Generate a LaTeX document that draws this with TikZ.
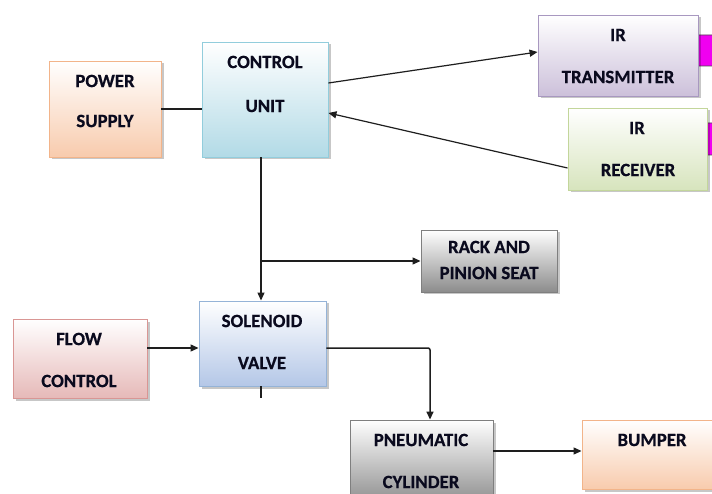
\documentclass[tikz,border=0pt]{standalone}
\usepackage{fontspec}
\setmainfont{Carlito}[BoldFeatures={FakeBold=0.6}]
\usetikzlibrary{arrows.meta,shadows,calc}
\definecolor{txt}{HTML}{0A0A1E}
\definecolor{ln}{HTML}{1E1E1E}
\definecolor{mag}{HTML}{F000F0}
\definecolor{psb}{HTML}{F8CBAD}\definecolor{psd}{HTML}{F2B48A}
\definecolor{cub}{HTML}{B2DAE6}\definecolor{cud}{HTML}{92CDDC}
\definecolor{itb}{HTML}{CCC0DA}\definecolor{itd}{HTML}{A898C0}
\definecolor{irb}{HTML}{D7E4BD}\definecolor{ird}{HTML}{C3D69B}
\definecolor{grb}{HTML}{8C8C8C}\definecolor{grd}{HTML}{7F7F7F}
\definecolor{svb}{HTML}{B4C7E7}\definecolor{svd}{HTML}{95B3D7}
\definecolor{fcb}{HTML}{E6B9B8}\definecolor{fcd}{HTML}{D99694}
\tikzset{
  blk/.style n args={2}{draw=#2, line width=0.9pt, top color=white, bottom color=#1,
     drop shadow={shadow xshift=2.5pt, shadow yshift=-2.5pt, fill=black, opacity=0.22},
     inner sep=0pt},
  lbl/.style={font=\fontsize{18.8}{21}\selectfont\bfseries, text=txt, inner sep=0pt},
  conn/.style={draw=ln, line width=1.2pt},
  arr/.style={conn, -{Triangle[length=8pt,width=7pt]}},
  tab/.style={draw=black!70, line width=0.7pt, fill=mag, rounded corners=4pt}
}
\begin{document}
\begin{tikzpicture}[x=1pt,y=-1pt]
\useasboundingbox (0,0) rectangle (712,494);
\clip (0,0) rectangle (712,494);
\fill[white] (0,0) rectangle (712,494);
% tabs
\draw[tab] (694,35) rectangle (722,66);
\draw[tab] (702,123) rectangle (722,155);
% boxes
\node[blk={psb}{psd}, minimum width=112pt, minimum height=96pt] (ps) at (105,109) {};
\node[blk={cub}{cud}, minimum width=126pt, minimum height=115pt] (cu) at (265,99.5) {};
\node[blk={itb}{itd}, minimum width=160pt, minimum height=81pt] (it) at (618,55.5) {};
\node[blk={irb}{ird}, minimum width=139pt, minimum height=82pt] (ir) at (637.5,149) {};
\node[blk={grb}{grd}, minimum width=136pt, minimum height=62pt] (rk) at (489,261) {};
\node[blk={svb}{svd}, minimum width=127pt, minimum height=85pt] (sv) at (262.5,343.5) {};
\node[blk={fcb}{fcd}, minimum width=134pt, minimum height=79pt] (fc) at (80,358.5) {};
\node[blk={grb}{grd}, minimum width=143pt, minimum height=85pt] (pc) at (421.5,462.5) {};
\node[blk={psb}{psd}, minimum width=140pt, minimum height=69pt] (bu) at (652,454.5) {};
% labels
\node[lbl] (ps1) at (105,81) {POWER};
\node[lbl] (ps2) at (105,121) {SUPPLY};
\node[lbl] (cu1) at (265,62) {CONTROL};
\node[lbl] (cu2) at (265,106) {UNIT};
\node[lbl] (it1) at (618,35) {IR};
\node[lbl] (it2) at (618,77) {TRANSMITTER};
\node[lbl] (ir1) at (637,128) {IR};
\node[lbl] (ir2) at (638,170) {RECEIVER};
\node[lbl] (rk1) at (489,247) {RACK AND};
\node[lbl] (rk2) at (489,273) {PINION SEAT};
\node[lbl] (sv1) at (262,321) {SOLENOID};
\node[lbl] (sv2) at (262,363) {VALVE};
\node[lbl] (fc1) at (79,339) {FLOW};
\node[lbl] (fc2) at (79,381) {CONTROL};
\node[lbl] (pc1) at (421,440) {PNEUMATIC};
\node[lbl] (pc2) at (421,482) {CYLINDER};
\node[lbl] (bu1) at (652,440) {BUMPER};
% connectors
\draw[conn] (ps.east) -- (ps.east -| cu.west);
\draw[arr] ([yshift=16.5pt]cu.east) -- ([yshift=3.5pt]it.west);
\draw[arr] ([yshift=-19pt]ir.west) -- ([yshift=-13.5pt]cu.east);
\coordinate (top) at ([xshift=-4pt]cu.south);
\coordinate (j) at (top |- rk.west);
\draw[conn] (top) -- (j);
\draw[arr] (j) -- (rk.west);
\draw[arr] (j) -- (j |- sv.north);
\coordinate (stub) at ([yshift=-12pt]sv.south -| j);
\draw[conn] (sv.south -| j) -- (stub);
\draw[arr] ([yshift=10.5pt]fc.east) -- ([yshift=10.5pt]fc.east -| sv.west);
\draw[arr, rounded corners=2pt, line width=1.5pt] ([yshift=-4.5pt]sv.east) -| ([xshift=8.5pt]pc.north);
\draw[arr] ([yshift=11.5pt]pc.east) -- ([yshift=11.5pt]pc.east -| bu.west);
\end{tikzpicture}
\end{document}
